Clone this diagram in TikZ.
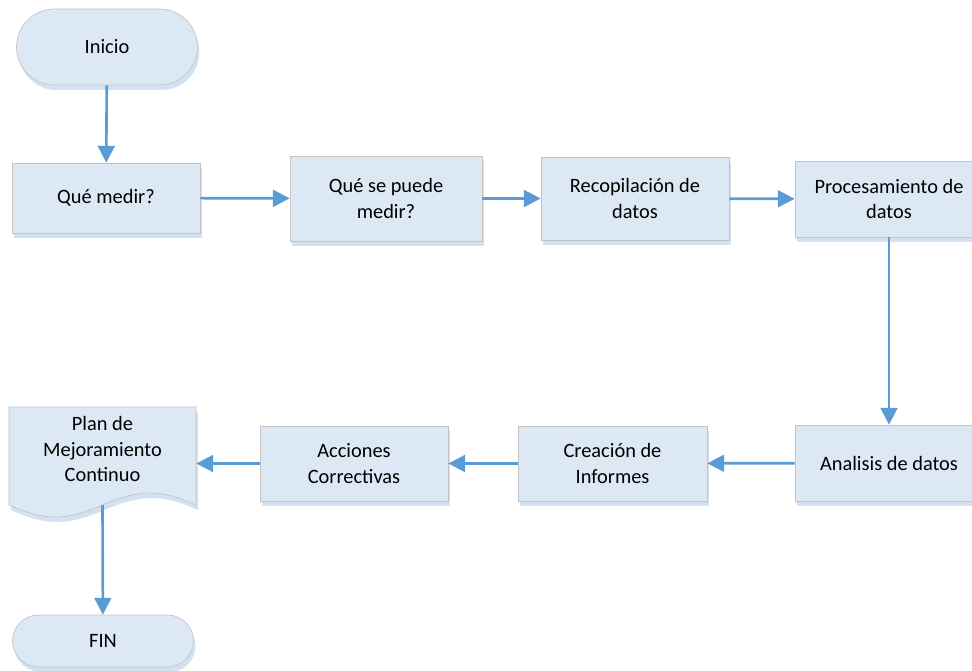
\documentclass[tikz,border=0pt]{standalone}
\usepackage{fontspec}
\setmainfont{Carlito}
\usetikzlibrary{arrows.meta,shapes.misc,shadows}

\definecolor{boxfill}{HTML}{DDE8F5}
\definecolor{boxline}{HTML}{C4C4C4}
\definecolor{boxshade}{HTML}{D3E2F3}
\definecolor{flowblue}{HTML}{5B9BD5}

\begin{document}
\begin{tikzpicture}
    [
        x=0.02cm, y=-0.02cm,
        font=\fontsize{11.6}{14.6}\selectfont,
        shade/.style={drop shadow={shadow xshift=0.04cm, shadow yshift=-0.1cm, fill=boxshade, opacity=1}},
        process/.style={rectangle, draw=boxline, fill=boxfill, shade, align=center,
            minimum width=3.76cm, minimum height=1.5cm, inner sep=2pt},
        terminal/.style={rounded rectangle, draw=boxline, fill=boxfill, shade,
            minimum width=3.76cm, minimum height=1.52cm, inner sep=2pt},
        docbox/.style={draw=boxline, fill=boxfill, shade},
        edge/.style={-{Triangle[length=9.6pt, width=9.6pt]}, draw=flowblue, line width=1.5pt},
    ]

    \useasboundingbox (0,0) rectangle (972,670);

    % first row
    \node (inicio) at (107,47)      [terminal] {Inicio};
    \node (medir) at (106,198)      [process, minimum height=1.4cm] {Qué medir?};
    \node (puede) at (386,198.5)    [process, minimum width=3.84cm, minimum height=1.7cm] {Qué se puede\\medir?};
    \node (recop) at (635,198.5)    [process, minimum height=1.66cm] {Recopilación de\\datos};
    \node (proc) at (889,199)       [process, minimum height=1.52cm] {Procesamiento de\\datos};

    % second row
    \node (analisis) at (889,463)   [process, minimum height=1.52cm] {Analisis de datos};
    \node (informes) at (612.5,463.5) [process, minimum width=3.78cm] {Creación de\\Informes};
    \node (acciones) at (354,463.5) [process] {Acciones\\Correctivas};

    % document shape with wavy bottom
    \path [docbox] (9,407) -- (196,407) -- (196,505)
        .. controls (160,489) and (140,489) .. (102.5,505)
        .. controls (65,521) and (45,521) .. (9,505) -- cycle;
    \coordinate (wave) at (102.5,505);
    \node (plan) at (102.5,449)     [align=center, minimum width=3.74cm, inner sep=0pt] {Plan de\\Mejoramiento\\Continuo};

    \node (fin) at (103,641)        [terminal, minimum height=1.04cm] {FIN};

    \draw [edge] (inicio) -- (medir);
    \draw [edge] (medir) -- (puede);
    \draw [edge] (puede) -- (recop);
    \draw [edge] (recop) -- (proc);
    \draw [edge] (proc) -- (analisis);
    \draw [edge] (analisis) -- (informes);
    \draw [edge] (informes) -- (acciones);
    \draw [edge] (acciones) -- (acciones -| plan.east);
    \draw [edge] (wave) -- (fin);

\end{tikzpicture}
\end{document}
